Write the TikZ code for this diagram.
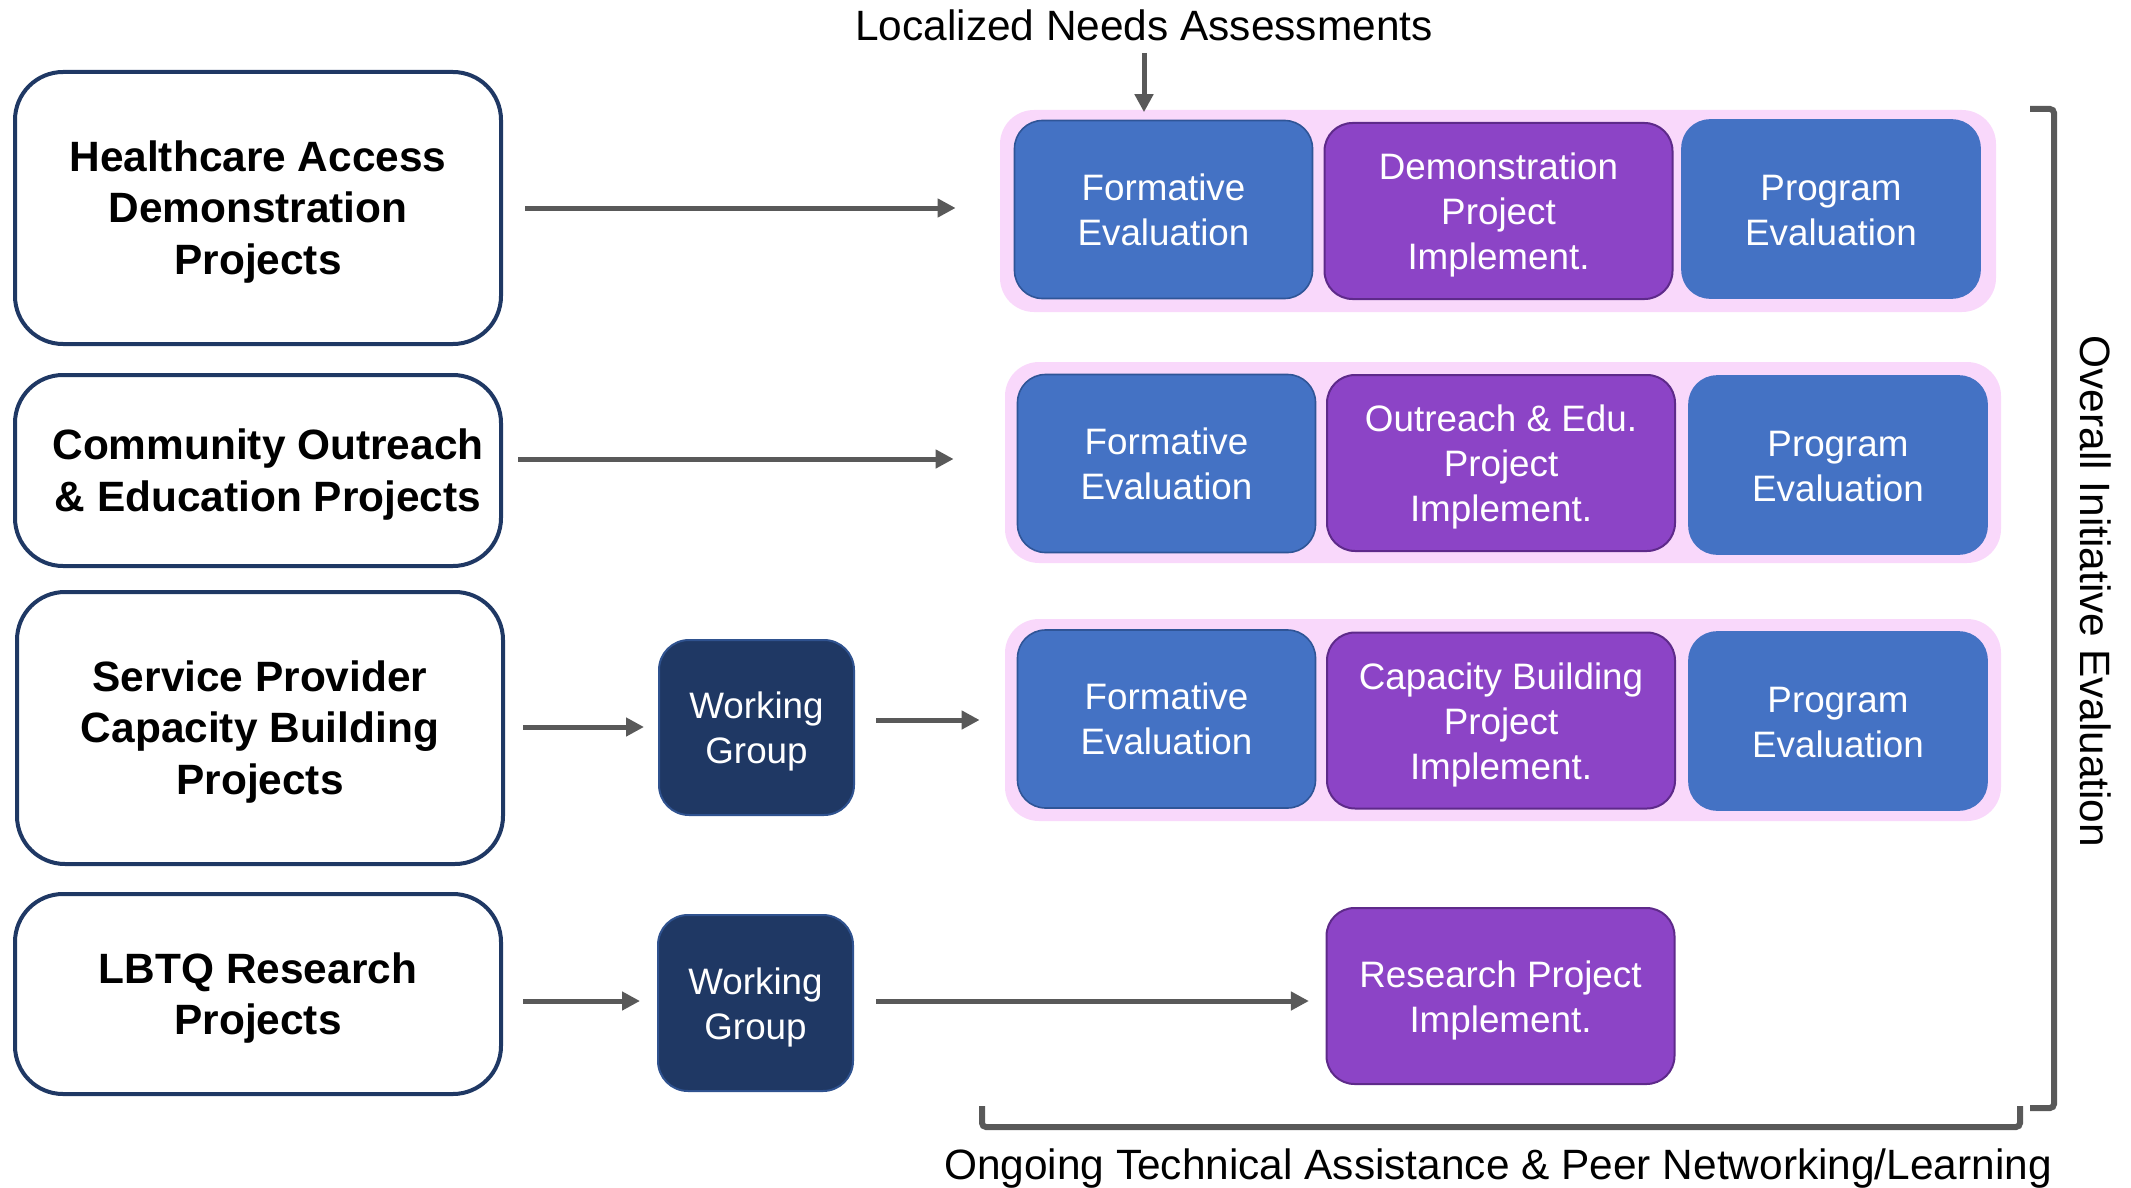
\documentclass[tikz,border=0pt]{standalone}
\usepackage{fontspec}
\setmainfont{Liberation Sans}
\usetikzlibrary{arrows.meta}
\definecolor{cNavy}{HTML}{1F3864}
\definecolor{cNavyEdge}{HTML}{2F528F}
\definecolor{cBlue}{HTML}{4472C4}
\definecolor{cBlueEdge}{HTML}{2F5597}
\definecolor{cPurple}{HTML}{8C44C6}
\definecolor{cPurpleEdge}{HTML}{5E2A8A}
\definecolor{cPink}{HTML}{F9D8FB}
\definecolor{cArrow}{HTML}{595959}
\begin{document}
\begin{tikzpicture}[x=0.5pt,y=-0.5pt,
  projbox/.style={draw=cNavy, line width=2pt, fill=white, rounded corners=24pt,
    minimum width=243pt, inner sep=0pt},
  projtxt/.style={align=center, font=\bfseries\fontsize{21.2}{25.6}\selectfont,
    inner sep=0pt, yshift=-2pt},
  boxtxt/.style={align=center, text=white, font=\fontsize{18.4}{22.5}\selectfont,
    inner sep=0pt, yshift=-2pt},
  fetxt/.style={boxtxt, yshift=2pt},
  petxt/.style={boxtxt, yshift=1.3pt},
  wgbox/.style={draw=cNavyEdge, line width=1pt, fill=cNavy, rounded corners=15pt,
    minimum width=97.5pt, minimum height=87.5pt, inner sep=0pt},
  band/.style={draw=none, fill=cPink, rounded corners=17pt, inner sep=0pt},
  evalbox/.style={draw=cBlueEdge, line width=0.8pt, fill=cBlue, rounded corners=14pt,
    minimum width=149pt, minimum height=89pt, inner sep=0pt},
  progbox/.style={evalbox, draw=cBlue},
  implbox/.style={draw=cPurpleEdge, line width=1pt, fill=cPurple, rounded corners=14pt,
    minimum width=174pt, minimum height=88pt, inner sep=0pt},
  arr/.style={draw=cArrow, line width=2.5pt, -{Triangle[length=9pt,width=9pt]}},
  brk/.style={draw=cArrow, line width=3pt, rounded corners=2pt},
  bigtext/.style={font=\fontsize{21.2}{25.3}\selectfont, inner sep=0pt}
]
\useasboundingbox (0,0) rectangle (2131,1188);

% left project boxes
\node[projbox, minimum height=136pt, label={[projtxt]center:{Healthcare Access\\Demonstration\\Projects}}] (b1) at (258,208) {};
\node[projbox, minimum height=95.5pt, label={[projtxt, xshift=5pt]center:{Community Outreach\\\& Education Projects}}] (b2) at (258,470.5) {};
\node[projbox, minimum height=136pt, label={[projtxt]center:{Service Provider\\Capacity Building\\Projects}}] (b3) at (260,728) {};
\node[projbox, minimum height=100pt, label={[projtxt]center:{LBTQ Research\\Projects}}] (b4) at (258,994) {};

% working groups
\node[wgbox, label={[boxtxt]center:{Working\\Group}}] (wg1) at (756.5,727.5) {};
\node[wgbox, minimum height=88pt, label={[boxtxt]center:{Working\\Group}}] (wg2) at (755.5,1003) {};

% bands
\node[band, minimum width=498pt, minimum height=101pt] (band1) at (1498,211) {};
\node[band, minimum width=498pt, minimum height=100.5pt] (band2) at (1503,462.5) {};
\node[band, minimum width=498pt, minimum height=101pt] (band3) at (1503,720) {};

% row 1
\node[evalbox, label={[fetxt]center:{Formative\\Evaluation}}] (fe1) at (1163.5,209.5) {};
\node[implbox, label={[boxtxt]center:{Demonstration\\Project\\Implement.}}] (dpi) at (1498.5,211) {};
\node[progbox, label={[petxt]center:{Program\\Evaluation}}] (pe1) at (1831,209) {};
% row 2
\node[evalbox, label={[fetxt]center:{Formative\\Evaluation}}] (fe2) at (1166.5,463.5) {};
\node[implbox, label={[boxtxt]center:{Outreach \& Edu.\\Project\\Implement.}}] (oe) at (1501,463) {};
\node[progbox, label={[petxt]center:{Program\\Evaluation}}] (pe2) at (1838,465) {};
% row 3
\node[evalbox, label={[fetxt]center:{Formative\\Evaluation}}] (fe3) at (1166.5,719) {};
\node[implbox, label={[boxtxt]center:{Capacity Building\\Project\\Implement.}}] (cb) at (1501,720.5) {};
\node[progbox, label={[petxt]center:{Program\\Evaluation}}] (pe3) at (1838,721) {};
% research
\node[implbox, label={[boxtxt]center:{Research Project\\Implement.}}] (res) at (1500.5,996) {};

% texts
\node[bigtext, anchor=base] (needs) at (1144,41) {Localized Needs Assessments};
\node[bigtext, anchor=base, rotate=-90] (overall) at (2080,591.5) {Overall Initiative Evaluation};
\node[bigtext, anchor=base] (ongoing) at (1498,1179) {Ongoing Technical Assistance \& Peer Networking/Learning};

% arrows
\draw[arr, shorten <=11pt, shorten >=22pt] (b1.east |- 0,208) -- (band1.west |- 0,208);
\draw[arr, shorten <=7.5pt, shorten >=25.5pt] (b2.east |- 0,459) -- (band2.west |- 0,459);
\draw[arr, shorten <=9pt, shorten >=7pt] (b3.east |- 0,727) -- (wg1.west |- 0,727);
\draw[arr, shorten <=10.5pt, shorten >=12.5pt] (wg1.east |- 0,720) -- (band3.west |- 0,720);
\draw[arr, shorten <=10pt, shorten >=8.5pt] (b4.east |- 0,1001) -- (wg2.west |- 0,1001);
\draw[arr, shorten <=11pt, shorten >=8.3pt] (wg2.east |- 0,1001) -- (res.west |- 0,1001);
\draw[arr, shorten <=5.5pt, shorten >=3.75pt] (needs.south -| 1144,0) -- (fe1.north -| 1144,0);

% brackets
\draw[brk] (2030,109) -- (2054,109) -- (2054,1108) -- (2030,1108);
\draw[brk] (982,1106) -- (982,1127) -- (2020,1127) -- (2020,1106);
\end{tikzpicture}
\end{document}
